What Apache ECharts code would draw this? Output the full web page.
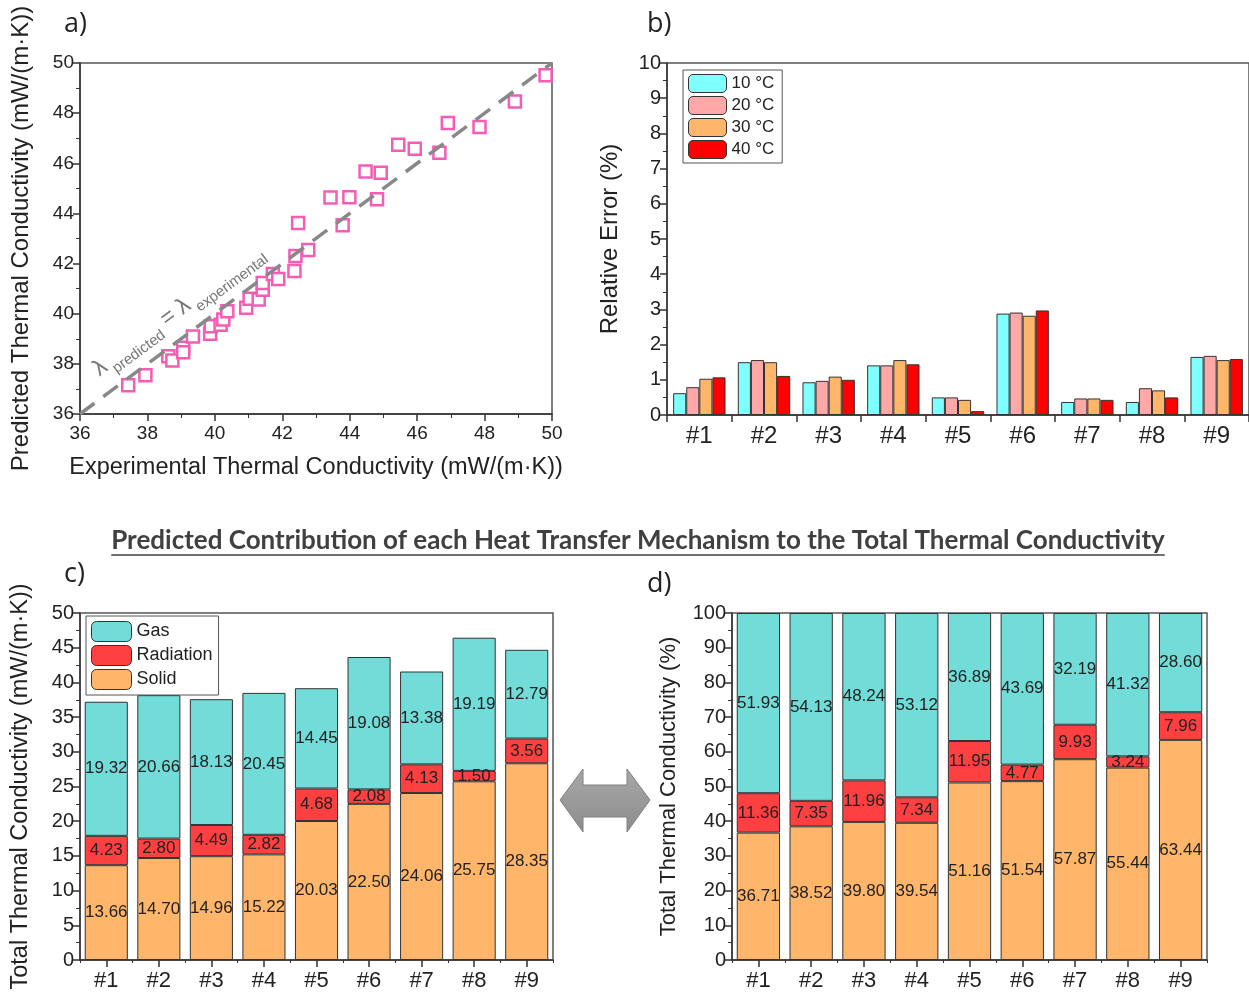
<!DOCTYPE html>
<html>
<head>
<meta charset="utf-8">
<script src="https://cdn.jsdelivr.net/npm/echarts@6/dist/echarts.min.js"></script>
<style>
  html, body { margin: 0; padding: 0; background: #fff; }
  #chart { width: 1249px; height: 992px; }
</style>
</head>
<body>
<div id="chart"></div>
<script>
// panel a: predicted vs experimental
const expX = [37.43, 37.94, 38.62, 38.74, 39.06, 39.06, 39.35, 39.86, 39.88, 40.17, 40.25, 40.37, 40.93, 41.03, 41.30, 41.42, 41.42, 41.72, 41.88, 42.36, 42.39, 42.47, 42.77, 43.43, 43.79, 43.99, 44.47, 44.81, 44.92, 45.44, 45.93, 46.66, 46.91, 47.85, 48.90, 49.81];
const predY = [37.15, 37.55, 38.30, 38.13, 38.64, 38.46, 39.09, 39.20, 39.50, 39.56, 39.77, 40.10, 40.24, 40.60, 40.57, 40.96, 41.23, 41.58, 41.38, 41.70, 42.30, 43.62, 42.54, 44.64, 43.53, 44.65, 45.67, 44.57, 45.62, 46.74, 46.58, 46.42, 47.61, 47.45, 48.46, 49.51];
const parityLine = [36, 50];

// panel b: relative error
const samples = ['#1', '#2', '#3', '#4', '#5', '#6', '#7', '#8', '#9'];
const tempNames = ['10 °C', '20 °C', '30 °C', '40 °C'];
const err10 = [0.62, 1.50, 0.93, 1.41, 0.50, 2.88, 0.37, 0.37, 1.65];
const err20 = [0.79, 1.56, 0.97, 1.41, 0.50, 2.91, 0.47, 0.76, 1.68];
const err30 = [1.03, 1.50, 1.09, 1.56, 0.43, 2.82, 0.47, 0.70, 1.56];
const err40 = [1.07, 1.11, 1.00, 1.44, 0.11, 2.97, 0.43, 0.50, 1.59];

// panel c: absolute contributions (mW/(m·K))
const solidAbs = [13.66, 14.70, 14.96, 15.22, 20.03, 22.50, 24.06, 25.75, 28.35];
const radAbs = [4.23, 2.80, 4.49, 2.82, 4.68, 2.08, 4.13, 1.50, 3.56];
const gasAbs = [19.32, 20.66, 18.13, 20.45, 14.45, 19.08, 13.38, 19.19, 12.79];

// panel d: relative contributions (%)
const solidPct = [36.71, 38.52, 39.80, 39.54, 51.16, 51.54, 57.87, 55.44, 63.44];
const radPct = [11.36, 7.35, 11.96, 7.34, 11.95, 4.77, 9.93, 3.24, 7.96];
const gasPct = [51.93, 54.13, 48.24, 53.12, 36.89, 43.69, 32.19, 41.32, 28.60];

const FONT = '"Liberation Sans", Arial, sans-serif';
const AXC = '#333';
const errColors = ['#80FFFF', '#FFA8A8', '#FFB66B', '#FF0000'];
const mechColors = { Gas: '#72DCD8', Radiation: '#FF4040', Solid: '#FFB66B' };

const titleText = 'Predicted Contribution of each Heat Transfer Mechanism to the Total Thermal Conductivity';
const titleFont = 'bold 26px Lato';
const meas = document.createElement('canvas').getContext('2d');
meas.font = titleFont;
const titleW = meas.measureText(titleText).width;

const chart = echarts.init(document.getElementById('chart'));

function axisLine() {
  return { show: true, lineStyle: { color: AXC, width: 1.5 } };
}
function valueAxis(gridIndex, min, max, interval, name, nameGap, nameSize, labelSize) {
  return {
    type: 'value', gridIndex, min, max, interval,
    name, nameLocation: 'middle', nameGap,
    nameTextStyle: { fontFamily: FONT, fontSize: nameSize, color: '#222' },
    axisLine: axisLine(),
    axisTick: { show: true, length: 7, lineStyle: { color: AXC, width: 1.5 } },
    minorTick: { show: true, splitNumber: 2, length: 4, lineStyle: { color: AXC, width: 1 } },
    axisLabel: { fontFamily: FONT, fontSize: labelSize, color: '#222', margin: 6 },
    splitLine: { show: false }
  };
}
function catAxis(gridIndex, labelSize, alignWithLabel, margin) {
  return {
    type: 'category', gridIndex, data: samples,
    axisLine: axisLine(),
    axisTick: { show: true, alignWithLabel, length: 7, lineStyle: { color: AXC, width: 1.5 } },
    axisLabel: { fontFamily: FONT, fontSize: labelSize, color: '#222', margin },
    splitLine: { show: false }
  };
}
// boundary ticks only (minor ticks between the bars of c and d)
function boundaryAxis(gridIndex) {
  return {
    type: 'category', gridIndex, data: samples, position: 'bottom',
    axisLine: { show: false },
    axisTick: { show: true, length: 3, lineStyle: { color: AXC, width: 1 } },
    axisLabel: { show: false },
    splitLine: { show: false }
  };
}

const barLabel = {
  show: true, position: 'inside', fontFamily: FONT, fontSize: 17, color: '#222',
  formatter: p => p.value.toFixed(2)
};
function stackSeries(name, data, xi, yi, stack) {
  return {
    type: 'bar', name, data, xAxisIndex: xi, yAxisIndex: yi, stack,
    barCategoryGap: '18%',
    itemStyle: { color: mechColors[name], borderColor: '#333', borderWidth: 1 },
    label: barLabel
  };
}

const errSeries = [err10, err20, err30, err40].map((d, i) => ({
  type: 'bar', name: tempNames[i], data: d, xAxisIndex: 1, yAxisIndex: 1,
  barGap: '0%', barCategoryGap: '19%',
  itemStyle: { color: errColors[i], borderColor: '#333', borderWidth: 1 }
}));

const gridBox = { show: true, borderColor: '#555', borderWidth: 1.5, backgroundColor: 'transparent' };

const option = {
  animation: false,
  backgroundColor: '#fff',
  grid: [
    Object.assign({ left: 80, top: 63, width: 472, height: 351 }, gridBox),
    Object.assign({ left: 667, top: 63, width: 592, height: 352 }, gridBox),
    Object.assign({ left: 80, top: 613, width: 473, height: 350 }, gridBox),
    Object.assign({ left: 732, top: 613, width: 475, height: 350 }, gridBox)
  ],
  legend: [
    {
      data: tempNames, orient: 'vertical', left: 683, top: 70,
      itemWidth: 38, itemHeight: 18, itemGap: 3, padding: [4, 8, 4, 5],
      borderColor: '#555', borderWidth: 1, backgroundColor: '#fff',
      itemStyle: { borderColor: '#333', borderWidth: 1 },
      textStyle: { fontFamily: FONT, fontSize: 17, color: '#222' }
    },
    {
      data: ['Gas', 'Radiation', 'Solid'], orient: 'vertical', left: 86, top: 616,
      itemWidth: 40, itemHeight: 20, itemGap: 3, padding: [5, 6, 5, 5],
      borderColor: '#555', borderWidth: 1, backgroundColor: '#fff',
      itemStyle: { borderColor: '#333', borderWidth: 1 },
      textStyle: { fontFamily: FONT, fontSize: 18, color: '#222' }
    }
  ],
  xAxis: [
    Object.assign(valueAxis(0, 36, 50, 2, 'Experimental Thermal Conductivity (mW/(m·K))', 42, 23.5, 19),
      { axisLabel: { fontFamily: FONT, fontSize: 19, color: '#222', margin: 10 } }),
    catAxis(1, 24, false, 9),
    catAxis(2, 22, true, 10),
    catAxis(3, 22, true, 10),
    boundaryAxis(2),
    boundaryAxis(3)
  ],
  yAxis: [
    valueAxis(0, 36, 50, 2, 'Predicted Thermal Conductivity (mW/(m·K))', 47, 24, 19),
    valueAxis(1, 0, 10, 1, 'Relative Error (%)', 45, 24, 20),
    valueAxis(2, 0, 50, 5, 'Total Thermal Conductivity (mW/(m·K))', 47, 23.5, 20),
    valueAxis(3, 0, 100, 10, 'Total Thermal Conductivity (%)', 52, 22, 20)
  ],
  series: [
    {
      type: 'line', data: parityLine.map(v => [v, v]), xAxisIndex: 0, yAxisIndex: 0,
      symbol: 'none', silent: true,
      lineStyle: { color: '#888', width: 3.5, type: [18, 11] }
    },
    {
      type: 'scatter', data: expX.map((x, i) => [x, predY[i]]), xAxisIndex: 0, yAxisIndex: 0,
      symbol: 'rect', symbolSize: 12,
      itemStyle: { color: '#fff', borderColor: '#F55DB5', borderWidth: 2.5, opacity: 1 }
    },
    ...errSeries,
    stackSeries('Solid', solidAbs, 2, 2, 'abs'),
    stackSeries('Radiation', radAbs, 2, 2, 'abs'),
    stackSeries('Gas', gasAbs, 2, 2, 'abs'),
    stackSeries('Solid', solidPct, 3, 3, 'pct'),
    stackSeries('Radiation', radPct, 3, 3, 'pct'),
    stackSeries('Gas', gasPct, 3, 3, 'pct')
  ],
  graphic: [
    { type: 'text', left: 64, top: 11, style: { text: 'a)', font: '27px "Open Sans"', fill: '#222' } },
    { type: 'text', left: 647, top: 11, style: { text: 'b)', font: '27px "Open Sans"', fill: '#222' } },
    { type: 'text', left: 64, top: 561, style: { text: 'c)', font: '27px "Open Sans"', fill: '#222' } },
    { type: 'text', left: 647, top: 571, style: { text: 'd)', font: '27px "Open Sans"', fill: '#222' } },
    {
      type: 'text', x: 638, y: 541,
      style: { text: titleText, font: titleFont, fill: '#404040', align: 'center', verticalAlign: 'middle' }
    },
    {
      type: 'line', shape: { x1: 638 - titleW / 2, y1: 555, x2: 638 + titleW / 2, y2: 555 },
      style: { stroke: '#404040', lineWidth: 1.5 }
    },
    {
      type: 'text', x: 180, y: 313, rotation: 36.4 * Math.PI / 180,
      style: {
        text: '{l|λ}{s| predicted}{l| = λ}{s| experimental}',
        align: 'center', verticalAlign: 'middle', fill: '#777',
        rich: {
          l: { fontFamily: FONT, fontSize: 23, fill: '#777', verticalAlign: 'bottom', padding: [0, 0, 6, 0] },
          s: { fontFamily: FONT, fontSize: 15, fill: '#777', verticalAlign: 'bottom' }
        }
      }
    },
    {
      type: 'polygon',
      shape: { points: [[560, 800], [583, 769], [583, 785], [627, 785], [627, 769], [650, 800], [627, 832], [627, 817], [583, 817], [583, 832]] },
      style: {
        fill: new echarts.graphic.LinearGradient(0, 0, 0, 1, [
          { offset: 0, color: '#a8a8a8' }, { offset: 1, color: '#8c8c8c' }
        ]),
        stroke: '#808080', lineWidth: 1
      }
    }
  ]
};

chart.setOption(option);
</script>
</body>
</html>
